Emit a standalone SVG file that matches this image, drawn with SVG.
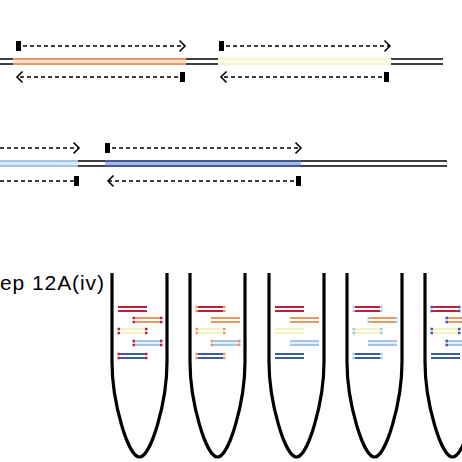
<svg xmlns="http://www.w3.org/2000/svg" width="462" height="462" viewBox="0 0 462 462">
<style>
.dna{stroke:#000;stroke-width:1.5;fill:none}
.dash{stroke:#000;stroke-width:1.5;fill:none;stroke-dasharray:4 3}
.tube{stroke:#000;stroke-width:3.2;fill:none}
.lbl{font-family:"Liberation Sans",Arial,sans-serif;font-size:21px;fill:#000}
.b{stroke-width:2;fill:none}
.red{stroke:#b8223f}.org{stroke:#e39a64}.yel{stroke:#f5f0c6}.lbl2{stroke:#a6c4e4}.dbl{stroke:#3f5b9f}
.dr{fill:#b8223f}.do{fill:#e39a64}.dl{fill:#a6c4e4}.dd{fill:#3f5b9f}
</style>
<defs>
<marker id="chev" markerUnits="userSpaceOnUse" markerWidth="8" markerHeight="12" refX="6" refY="6" orient="auto" overflow="visible">
<path d="M0.5,0.5 L6,6 L0.5,11.5" fill="none" stroke="#000" stroke-width="1.6"/>
</marker>
<marker id="bar" markerUnits="userSpaceOnUse" markerWidth="5" markerHeight="10" refX="0" refY="5" orient="auto" overflow="visible">
<rect x="0" y="0" width="5" height="10" fill="#000"/>
</marker>
</defs>

<g id="row1">
<line class="dna" x1="0" y1="59" x2="13" y2="59"/><line class="dna" x1="0" y1="64" x2="13" y2="64"/>
<rect x="13" y="58" width="173" height="7" fill="#f8dccb"/>
<line class="b org" x1="13" y1="59" x2="186" y2="59"/><line class="b org" x1="13" y1="64" x2="186" y2="64"/>
<line class="dna" x1="186" y1="59" x2="218" y2="59"/><line class="dna" x1="186" y1="64" x2="218" y2="64"/>
<rect x="218" y="58" width="173" height="7" fill="#fefdec"/>
<line class="b" stroke="#f7f3cf" x1="218" y1="59" x2="391" y2="59"/><line class="b" stroke="#f7f3cf" x1="218" y1="64" x2="391" y2="64"/>
<line class="dna" x1="391" y1="59" x2="443" y2="59"/><line class="dna" x1="391" y1="64" x2="443" y2="64"/>
</g>

<g id="row2">
<rect x="0" y="160" width="78" height="7" fill="#dce9f6"/>
<line class="b lbl2" x1="0" y1="161" x2="78" y2="161"/><line class="b lbl2" x1="0" y1="166" x2="78" y2="166"/>
<line class="dna" x1="78" y1="161" x2="105" y2="161"/><line class="dna" x1="78" y1="166" x2="105" y2="166"/>
<rect x="105" y="160" width="196" height="7" fill="#a9b8dc"/>
<line class="b dbl" x1="105" y1="161" x2="301" y2="161"/><line class="b dbl" x1="105" y1="166" x2="301" y2="166"/>
<line class="dna" x1="301" y1="161" x2="447" y2="161"/><line class="dna" x1="301" y1="166" x2="447" y2="166"/>
</g>

<g id="connectors">
<path class="dash" d="M16,46 H185" marker-start="url(#bar)" marker-end="url(#chev)"/>
<path class="dash" d="M185,77 H17" marker-start="url(#bar)" marker-end="url(#chev)"/>
<path class="dash" d="M219,46 H390" marker-start="url(#bar)" marker-end="url(#chev)"/>
<path class="dash" d="M389,77 H221" marker-start="url(#bar)" marker-end="url(#chev)"/>
<path class="dash" d="M0,148 H79" marker-end="url(#chev)"/>
<path class="dash" d="M105,148 H301" marker-start="url(#bar)" marker-end="url(#chev)"/>
<path class="dash" d="M0,181 H74" />
<rect x="74" y="176" width="5" height="10" fill="#000"/>
<path class="dash" d="M301,181 H108" marker-start="url(#bar)" marker-end="url(#chev)"/>
</g>

<text class="lbl" x="0" y="290" textLength="104">ep 12A(iv)</text>

<defs>
<path id="tubeShape" d="M0,273 V362 C0,402 16,457 27.5,457 C39,457 55,402 55,362 V273"/>
<g id="bands">
<line class="b red" x1="6" y1="307" x2="35" y2="307"/><line class="b red" x1="6" y1="311" x2="35" y2="311"/>
<line class="b org" x1="21" y1="318" x2="50" y2="318"/><line class="b org" x1="21" y1="322" x2="50" y2="322"/>
<rect x="6" y="329" width="29" height="4" fill="#fefcec"/>
<line class="b yel" x1="6" y1="329" x2="35" y2="329"/><line class="b yel" x1="6" y1="333" x2="35" y2="333"/>
<rect x="21" y="341" width="29" height="4" fill="#e3eef9"/>
<line class="b lbl2" x1="21" y1="341" x2="50" y2="341"/><line class="b lbl2" x1="21" y1="345" x2="50" y2="345"/>
<line class="b dbl" x1="6" y1="354" x2="35" y2="354"/><line class="b dbl" x1="6" y1="358" x2="35" y2="358"/>
</g>
<g id="dL1"><rect x="5.5" y="-1.25" width="2.5" height="2.5"/><rect x="33" y="-1.25" width="2.5" height="2.5"/><rect x="5.5" y="2.75" width="2.5" height="2.5"/><rect x="33" y="2.75" width="2.5" height="2.5"/></g>
<g id="dR1"><rect x="20.5" y="-1.25" width="2.5" height="2.5"/><rect x="48" y="-1.25" width="2.5" height="2.5"/><rect x="20.5" y="2.75" width="2.5" height="2.5"/><rect x="48" y="2.75" width="2.5" height="2.5"/></g>
</defs>

<g id="tube1" transform="translate(112,0)">
<use href="#bands"/>
<g class="dr">
<use href="#dR1" y="318"/><use href="#dL1" y="329"/><use href="#dR1" y="341"/><use href="#dL1" y="354"/>
</g>
<use href="#tubeShape" class="tube"/>
</g>
<g id="tube2" transform="translate(190,0)">
<use href="#bands"/>
<g class="do">
<use href="#dL1" y="307"/><use href="#dL1" y="329"/><use href="#dR1" y="341"/><use href="#dL1" y="354"/>
</g>
<use href="#tubeShape" class="tube"/>
</g>
<g id="tube3" transform="translate(269,0)">
<use href="#bands"/>
<use href="#tubeShape" class="tube"/>
</g>
<g id="tube4" transform="translate(347,0)">
<use href="#bands"/>
<g class="dl">
<use href="#dL1" y="307"/><use href="#dR1" y="318"/><use href="#dL1" y="329"/><use href="#dL1" y="354"/>
</g>
<use href="#tubeShape" class="tube"/>
</g>
<g id="tube5" transform="translate(425,0)">
<use href="#bands"/>
<g class="dd">
<use href="#dL1" y="307"/><use href="#dR1" y="318"/><use href="#dL1" y="329"/><use href="#dR1" y="341"/>
</g>
<use href="#tubeShape" class="tube"/>
</g>
</svg>
